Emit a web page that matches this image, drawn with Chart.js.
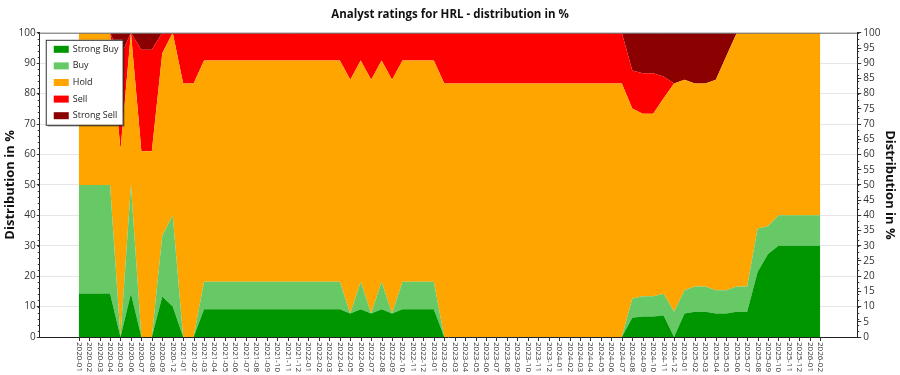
<!DOCTYPE html>
<html>
<head>
<meta charset="utf-8">
<script src="https://cdn.jsdelivr.net/npm/chart.js@4.4.1/dist/chart.umd.min.js"></script>
<style>
  html, body { margin: 0; padding: 0; background: #fff; }
  #wrap { width: 900px; height: 375px; }
</style>
</head>
<body>
<div id="wrap"><canvas id="chart"></canvas></div>
<script>
const months = [
  "2020-01", "2020-02", "2020-03", "2020-04", "2020-05", "2020-06", "2020-07", "2020-08", "2020-09", "2020-12",
  "2021-01", "2021-02", "2021-03", "2021-04", "2021-05", "2021-06", "2021-07", "2021-08", "2021-09", "2021-10", "2021-11", "2021-12",
  "2022-01", "2022-02", "2022-03", "2022-04", "2022-05", "2022-06", "2022-07", "2022-08", "2022-09", "2022-10", "2022-11", "2022-12",
  "2023-01", "2023-02", "2023-03", "2023-04", "2023-05", "2023-06", "2023-07", "2023-08", "2023-09", "2023-10", "2023-11", "2023-12",
  "2024-01", "2024-02", "2024-03", "2024-04", "2024-05", "2024-06", "2024-07", "2024-08", "2024-09", "2024-10", "2024-11", "2024-12",
  "2025-01", "2025-02", "2025-03", "2025-04", "2025-05", "2025-06", "2025-07", "2025-08", "2025-09", "2025-10", "2025-11", "2025-12",
  "2026-01", "2026-02"
]

const strongBuy = [
  14.3, 14.3, 14.3, 14.3, 0, 14.3, 0, 0, 13.3, 10,
  0, 0, 9.1, 9.1, 9.1, 9.1, 9.1, 9.1, 9.1, 9.1, 9.1, 9.1,
  9.1, 9.1, 9.1, 9.1, 7.7, 9.1, 7.7, 9.1, 7.7, 9.1, 9.1, 9.1,
  9.1, 0, 0, 0, 0, 0, 0, 0, 0, 0, 0, 0,
  0, 0, 0, 0, 0, 0, 0, 6.3, 6.7, 6.7, 7.1, 0,
  7.7, 8.3, 8.3, 7.7, 7.7, 8.3, 8.3, 21.4, 27.3, 30, 30, 30,
  30, 30
]
const buy = [
  35.7, 35.7, 35.7, 35.7, 0, 35.7, 0, 0, 20, 30,
  0, 0, 9.1, 9.1, 9.1, 9.1, 9.1, 9.1, 9.1, 9.1, 9.1, 9.1,
  9.1, 9.1, 9.1, 9.1, 0, 9.1, 0, 9.1, 0, 9.1, 9.1, 9.1,
  9.1, 0, 0, 0, 0, 0, 0, 0, 0, 0, 0, 0,
  0, 0, 0, 0, 0, 0, 0, 6.3, 6.7, 6.7, 7.1, 8.3,
  7.7, 8.3, 8.3, 7.7, 7.7, 8.3, 8.3, 14.3, 9.1, 10, 10, 10,
  10, 10
]
const hold = [
  50, 50, 50, 50, 61.5, 50, 61.1, 61.1, 60, 60,
  83.3, 83.3, 72.7, 72.7, 72.7, 72.7, 72.7, 72.7, 72.7, 72.7, 72.7, 72.7,
  72.7, 72.7, 72.7, 72.7, 76.9, 72.7, 76.9, 72.7, 76.9, 72.7, 72.7, 72.7,
  72.7, 83.3, 83.3, 83.3, 83.3, 83.3, 83.3, 83.3, 83.3, 83.3, 83.3, 83.3,
  83.3, 83.3, 83.3, 83.3, 83.3, 83.3, 83.3, 62.5, 60, 60, 64.3, 75,
  69.2, 66.7, 66.7, 69.2, 76.9, 83.3, 83.3, 64.3, 63.6, 60, 60, 60,
  60, 60
]
const sell = [
  0, 0, 0, 0, 30.8, 0, 33.3, 33.3, 6.7, 0,
  16.7, 16.7, 9.1, 9.1, 9.1, 9.1, 9.1, 9.1, 9.1, 9.1, 9.1, 9.1,
  9.1, 9.1, 9.1, 9.1, 15.4, 9.1, 15.4, 9.1, 15.4, 9.1, 9.1, 9.1,
  9.1, 16.7, 16.7, 16.7, 16.7, 16.7, 16.7, 16.7, 16.7, 16.7, 16.7, 16.7,
  16.7, 16.7, 16.7, 16.7, 16.7, 16.7, 16.7, 12.5, 13.3, 13.3, 7.1, 0,
  0, 0, 0, 0, 0, 0, 0, 0, 0, 0, 0, 0,
  0, 0
]
const strongSell = [
  0, 0, 0, 0, 7.7, 0, 5.6, 5.6, 0, 0,
  0, 0, 0, 0, 0, 0, 0, 0, 0, 0, 0, 0,
  0, 0, 0, 0, 0, 0, 0, 0, 0, 0, 0, 0,
  0, 0, 0, 0, 0, 0, 0, 0, 0, 0, 0, 0,
  0, 0, 0, 0, 0, 0, 0, 12.5, 13.3, 13.3, 14.3, 16.7,
  15.4, 16.7, 16.7, 15.4, 7.7, 0, 0, 0, 0, 0, 0, 0,
  0, 0
]

const seriesNames = ["Strong Buy", "Buy", "Hold", "Sell", "Strong Sell"]
const seriesColors = ["#009600", "#66c966", "#ffa500", "#ff0000", "#8b0000"]
const seriesValues = [strongBuy, buy, hold, sell, strongSell]

const FONT = '"Open Sans", "Noto Sans", sans-serif'

function makeDataset(i) {
  return {
    label: seriesNames[i],
    data: seriesValues[i].map((v, k) => ({ x: k, y: v })),
    backgroundColor: seriesColors[i],
    borderWidth: 0,
    pointRadius: 0,
    tension: 0,
    fill: i === 0 ? "origin" : "-1",
  }
}

// draws the rotated month labels, minor ticks, top border and the boxed legend
const decor = {
  id: "decor",
  afterDraw(chart) {
    const ctx = chart.ctx
    const a = chart.chartArea
    const x = chart.scales.x
    const y = chart.scales.y
    ctx.save()

    ctx.strokeStyle = "#777"
    ctx.lineWidth = 1
    ctx.beginPath()
    ctx.moveTo(a.left, a.top + 0.5)
    ctx.lineTo(a.right, a.top + 0.5)
    ctx.stroke()

    ctx.strokeStyle = "#333"
    for (let v = 0; v <= 100; v += 2) {
      const py = Math.round(y.getPixelForValue(v)) + 0.5
      ctx.beginPath()
      ctx.moveTo(a.left - 2, py)
      ctx.lineTo(a.left, py)
      ctx.moveTo(a.right, py)
      ctx.lineTo(a.right + 2, py)
      ctx.stroke()
    }

    ctx.fillStyle = "#333"
    ctx.font = "8px " + FONT
    ctx.textAlign = "left"
    ctx.textBaseline = "middle"
    months.forEach((m, i) => {
      const px = Math.round(x.getPixelForValue(i)) + 0.5
      ctx.beginPath()
      ctx.moveTo(px, a.bottom)
      ctx.lineTo(px, a.bottom + 4)
      ctx.stroke()
      ctx.save()
      ctx.translate(px, a.bottom + 5)
      ctx.rotate(Math.PI / 2)
      ctx.fillText(m, 0, 0)
      ctx.restore()
    })

    // legend box
    const lx = a.left + 6, ly = a.top + 7, lw = 77, lh = 85
    ctx.fillStyle = "rgba(0,0,0,0.25)"
    ctx.fillRect(lx + 2, ly + 2, lw, lh)
    ctx.fillStyle = "#fff"
    ctx.fillRect(lx, ly, lw, lh)
    ctx.strokeStyle = "#333"
    ctx.strokeRect(lx + 0.5, ly + 0.5, lw, lh)
    ctx.font = "9px " + FONT
    seriesNames.forEach((name, i) => {
      const cy = ly + 9 + i * 16.6
      ctx.fillStyle = seriesColors[i]
      ctx.fillRect(lx + 8, cy - 3, 15, 7)
      ctx.fillStyle = "#222"
      ctx.fillText(name, lx + 27, cy + 0.5)
    })
    ctx.restore()
  },
}

new Chart(document.getElementById("chart"), {
  type: "line",
  data: { datasets: seriesNames.map((n, i) => makeDataset(i)) },
  options: {
    responsive: true,
    maintainAspectRatio: false,
    animation: false,
    layout: { padding: { left: 2, right: 2, top: 0, bottom: 30 } },
    plugins: {
      legend: { display: false },
      tooltip: { enabled: false },
      title: {
        display: true,
        text: "Analyst ratings for HRL - distribution in %",
        color: "#111",
        font: { family: FONT, size: 11.5, weight: "bold" },
        padding: { top: 8, bottom: 11 },
      },
    },
    scales: {
      x: {
        type: "linear",
        min: -3.73,
        max: 74.54,
        grid: { display: false },
        ticks: { display: false },
        border: { display: true, color: "#222" },
      },
      y: {
        position: "left",
        stacked: true,
        min: 0,
        max: 100,
        ticks: { stepSize: 10, color: "#333", font: { family: FONT, size: 10 }, padding: 1 },
        grid: { color: "#e6e6e6", tickLength: 3, tickColor: "#333" },
        border: { color: "#222" },
        title: { display: true, text: "Distribution in %", color: "#111", font: { family: FONT, size: 13, weight: "bold" }, padding: 0 },
      },
      y2: {
        position: "right",
        min: 0,
        max: 100,
        ticks: { stepSize: 5, color: "#333", font: { family: FONT, size: 10 }, padding: 2 },
        grid: { drawOnChartArea: false, tickLength: 4, tickColor: "#333" },
        border: { color: "#222" },
        title: { display: true, text: "Distribution in %", color: "#111", font: { family: FONT, size: 13, weight: "bold" }, padding: 0 },
      },
    },
  },
  plugins: [decor],
})
</script>
</body>
</html>
